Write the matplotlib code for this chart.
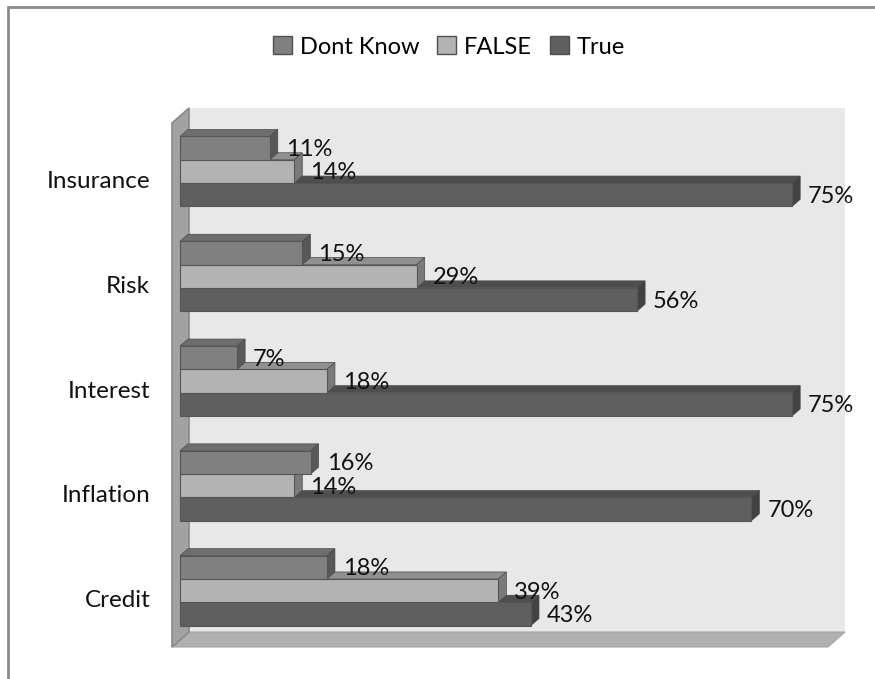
import numpy as np
import matplotlib.pyplot as plt
from matplotlib.patches import Polygon, Patch, Rectangle
from matplotlib.transforms import ScaledTranslation

categories = ["Insurance", "Risk", "Interest", "Inflation", "Credit"]
dont_know = [11, 15, 7, 16, 18]
false_vals = [14, 29, 18, 14, 39]
true_vals = [75, 56, 75, 70, 43]

series_names = ["Dont Know", "FALSE", "True"]
# front, top, side shades for each series
shades = {
    "Dont Know": ("#808080", "#6e6e6e", "#585858"),
    "FALSE": ("#b3b3b3", "#909090", "#7a7a7a"),
    "True": ("#5f5f5f", "#4e4e4e", "#424242"),
}

plt.rcParams['font.family'] = ['Lato', 'DejaVu Sans']
FS = 17

W, H = 875, 679
fig = plt.figure(figsize=(W / 100, H / 100), dpi=100)
ax_left, ax_right, ax_top, ax_bot = 180, 833, 119, 643
ax = fig.add_axes([ax_left / W, 1 - ax_bot / H,
                   (ax_right - ax_left) / W, (ax_bot - ax_top) / H])
XMAX = 80
ax.set_xlim(0, XMAX)
ax.set_ylim(len(categories) - 0.5, -0.5)

# pixel -> data unit factors
sx = XMAX / (ax_right - ax_left)
sy = len(categories) / (ax_bot - ax_top)


def shift(x, y, dxp, dyp):
    # move a data point by screen pixels (y up is negative data)
    return (x + dxp * sx, y - dyp * sy)


# walls and floor of the 3d box
fx0, fx1 = -8, -5  # pixel offsets of the front box at xmin / xmax
fy = 4
wdx, wdy = 17, 15
y_top, y_bot = -0.5, len(categories) - 0.5

front_tl = shift(0, y_top, fx0, -fy)
front_bl = shift(0, y_bot, fx0, -fy)
front_br = shift(XMAX, y_bot, fx1, -fy)
back_tl = shift(*front_tl, wdx, wdy)
back_bl = shift(*front_bl, wdx, wdy)
back_br = shift(*front_br, wdx, wdy)
back_tr = (back_br[0], back_tl[1])

ax.add_patch(Polygon([back_tl, back_tr, back_br, back_bl], closed=True,
                     facecolor="#e8e8e8", edgecolor="none", clip_on=False, zorder=0))
ax.add_patch(Polygon([front_bl, front_br, back_br, back_bl], closed=True,
                     facecolor="#b0b0b0", edgecolor="#a4a4a4", lw=0.8,
                     clip_on=False, zorder=1))
ax.add_patch(Polygon([front_tl, back_tl, back_bl, front_bl], closed=True,
                     facecolor="#a2a2a2", edgecolor="#8a8a8a", lw=1.2,
                     clip_on=False, zorder=1))

# 3d-looking bars
bar_h = 23.3 * sy
ddx, ddy = 8 * sx, 7 * sy
offsets = {"Dont Know": -bar_h, "FALSE": 0.0, "True": bar_h}
values = {"Dont Know": dont_know, "FALSE": false_vals, "True": true_vals}
order = {"True": 2, "FALSE": 3, "Dont Know": 4}

for name in series_names:
    front, topc, side = shades[name]
    z = order[name]
    for i, v in enumerate(values[name]):
        yc = i + offsets[name]
        top, bot = yc - bar_h / 2, yc + bar_h / 2
        ax.add_patch(Polygon([(0, top), (v, top), (v + ddx, top - ddy), (ddx, top - ddy)],
                             closed=True, facecolor=topc, edgecolor="#4a4a4a",
                             lw=0.5, zorder=z, clip_on=False))
        ax.add_patch(Polygon([(v, top), (v + ddx, top - ddy), (v + ddx, bot - ddy), (v, bot)],
                             closed=True, facecolor=side, edgecolor="#4a4a4a",
                             lw=0.5, zorder=z, clip_on=False))
        ax.add_patch(Rectangle((0, top), v, bar_h, facecolor=front,
                               edgecolor="#555555", lw=0.8, zorder=z, clip_on=False))
        ax.text(v + ddx + 8 * sx, yc + 1.5 * sy, f"{v}%", ha="left", va="center",
                fontsize=FS, color="#111111", zorder=6)

ax.set_yticks(range(len(categories)))
ax.set_yticklabels(categories, fontsize=FS + 0.5, color="#111111")
ax.tick_params(axis="y", length=0, pad=21.5)
ax.set_xticks([])
for lab in ax.get_yticklabels():
    lab.set_transform(lab.get_transform() + ScaledTranslation(0, -8 / 100, fig.dpi_scale_trans))
for s in ax.spines.values():
    s.set_visible(False)
ax.patch.set_visible(False)

handles = [Patch(facecolor=shades[n][0], edgecolor="#505050", lw=1) for n in series_names]
fig.legend(handles, series_names, loc="center", bbox_to_anchor=(449 / W, 1 - 47 / H),
           ncol=3, frameon=False, fontsize=FS, handlelength=0.8, handleheight=0.8,
           handletextpad=0.35, columnspacing=0.75)

# chart border (top and left edges visible)
fig.add_artist(Rectangle((8 / W, -0.2), 1.2, 1.2 - 7 / H, transform=fig.transFigure,
                         fill=False, edgecolor="#8a8a8a", lw=2))

fig.savefig("out.png", dpi=100)
